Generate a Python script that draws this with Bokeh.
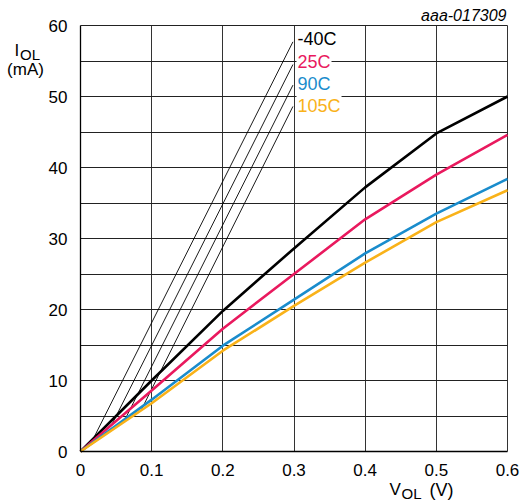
from bokeh.plotting import figure
from bokeh.models import Range1d, FixedTicker, Label, Grid
from bokeh.embed import file_html
from bokeh.resources import INLINE
import numpy as np

# ---- data ----
vol = [0.0, 0.1, 0.2, 0.3, 0.4, 0.5, 0.6]
iol_m40 = [0.0, 10.0, 19.8, 28.6, 37.2, 44.8, 50.0]
iol_25 = [0.0, 8.6, 17.3, 25.0, 32.7, 39.0, 44.6]
iol_90 = [0.0, 7.3, 14.9, 21.4, 27.9, 33.5, 38.4]
iol_105 = [0.0, 6.8, 14.2, 20.5, 26.6, 32.3, 36.8]
series_names = ["-40C", "25C", "90C", "105C"]
x_ticks = [0.0, 0.1, 0.2, 0.3, 0.4, 0.5, 0.6]
x_tick_labels = ["0", "0.1", "0.2", "0.3", "0.4", "0.5", "0.6"]
y_ticks = [0, 10, 20, 30, 40, 50, 60]
x_grid = [0.1, 0.2, 0.3, 0.4, 0.5, 0.6]
y_grid = [5, 10, 15, 20, 25, 30, 35, 40, 45, 50, 55, 60]
X_MIN, X_MAX = 0.0, 0.6
Y_MIN, Y_MAX = 0.0, 60.0
# leader lines: where each one touches its curve (x) and its label end (x, y)
leader_curve_x = [0.018, 0.044, 0.063, 0.085]
leader_label_x = 0.2985
leader_label_y = [57.7, 54.5, 51.6, 48.6]

series = [iol_m40, iol_25, iol_90, iol_105]
colors = ["#000000", "#e9195e", "#1a8ccc", "#f9b219"]
FONT = "Liberation Sans"

W, H = 521, 501
# plot area in canvas pixels
PL, PR, PT, PB = 80, 507, 25, 451
sx = (PR - PL) / (X_MAX - X_MIN)
sy = (PB - PT) / (Y_MAX - Y_MIN)
xr = Range1d(X_MIN - PL / sx, X_MAX + (W - PR) / sx)
yr = Range1d(Y_MIN - (H - PB) / sy, Y_MAX + PT / sy)

p = figure(width=W, height=H, output_backend="svg", toolbar_location=None,
           x_range=xr, y_range=yr,
           min_border_left=0, min_border_right=0, min_border_top=0,
           min_border_bottom=0)
p.background_fill_color = "white"
p.border_fill_color = "white"
p.outline_line_color = None
p.xgrid.visible = False
p.ygrid.visible = False

# grid
gx = Grid(dimension=0, ticker=FixedTicker(ticks=x_grid),
          grid_line_color="#333333", grid_line_width=1)
gy = Grid(dimension=1, ticker=FixedTicker(ticks=y_grid),
          grid_line_color="#222222", grid_line_width=1)
use_segments = False
try:
    gx.bounds = (X_MIN, X_MAX)
    gx.cross_bounds = (Y_MIN, Y_MAX)
    gy.bounds = (Y_MIN, Y_MAX)
    gy.cross_bounds = (X_MIN, X_MAX)
    p.add_layout(gx, "center")
    p.add_layout(gy, "center")
except AttributeError:
    use_segments = True
if use_segments:
    p.segment(x0=x_grid, y0=[Y_MIN] * len(x_grid), x1=x_grid,
              y1=[Y_MAX] * len(x_grid), line_color="#333333", line_width=1)
    p.segment(x0=[X_MIN] * len(y_grid), y0=y_grid, x1=[X_MAX] * len(y_grid),
              y1=y_grid, line_color="#222222", line_width=1)

# axes at fixed locations
p.xaxis.fixed_location = Y_MIN
p.yaxis.fixed_location = X_MIN
p.xaxis.bounds = (X_MIN, X_MAX)
p.yaxis.bounds = (Y_MIN, Y_MAX)
p.xaxis.ticker = FixedTicker(ticks=x_ticks)
p.xaxis.major_label_overrides = {t: l for t, l in zip(x_ticks, x_tick_labels)}
p.yaxis.ticker = FixedTicker(ticks=y_ticks)
for ax in (p.xaxis, p.yaxis):
    ax.major_tick_out = 0
    ax.major_tick_in = 0
    ax.minor_tick_out = 0
    ax.minor_tick_in = 0
    ax.axis_line_color = "black"
    ax.axis_line_width = 1.3
    ax.major_label_text_font = FONT
    ax.major_label_text_font_size = "17px"
    ax.major_label_text_color = "black"
p.xaxis.major_label_standoff = 12
p.yaxis.major_label_standoff = 13

# leader lines
for cx, ly, ys in zip(leader_curve_x, leader_label_y, series):
    cy = float(np.interp(cx, vol, ys))
    p.line([cx, leader_label_x], [cy, ly], line_color="black", line_width=0.9)

# curves
for ys, c in zip(series, colors):
    p.line(vol, ys, line_color=c, line_width=2.6)


def canvas_label(x, y, text, size="17px", align="left", style="normal",
                 color="black", bg=None):
    p.add_layout(Label(x=x, y=y, x_units="canvas", y_units="canvas",
                       text=text, text_font=FONT, text_font_size=size,
                       text_baseline="alphabetic", text_align=align,
                       text_font_style=style, text_color=color,
                       background_fill_color=bg, padding=1))

# series labels
label_baselines = [38, 61, 83, 105]
for name, c, b in zip(series_names, colors, label_baselines):
    canvas_label(296, b, name, size="18px", color=c, bg="white")

# y axis title I_OL (mA)
canvas_label(13, 50, "I")
canvas_label(18.5, 54, "OL", size="15px")
canvas_label(25, 69, "(mA)", align="center")

# x axis title V_OL (V)
canvas_label(388, 489, "V")
canvas_label(400, 493, "OL", size="15px")
canvas_label(428, 489, "(V)", size="18px")

# figure id
canvas_label(507, 15, "aaa-017309", size="16px", align="right", style="italic")

open("out.html", "w").write(file_html(p, INLINE))
